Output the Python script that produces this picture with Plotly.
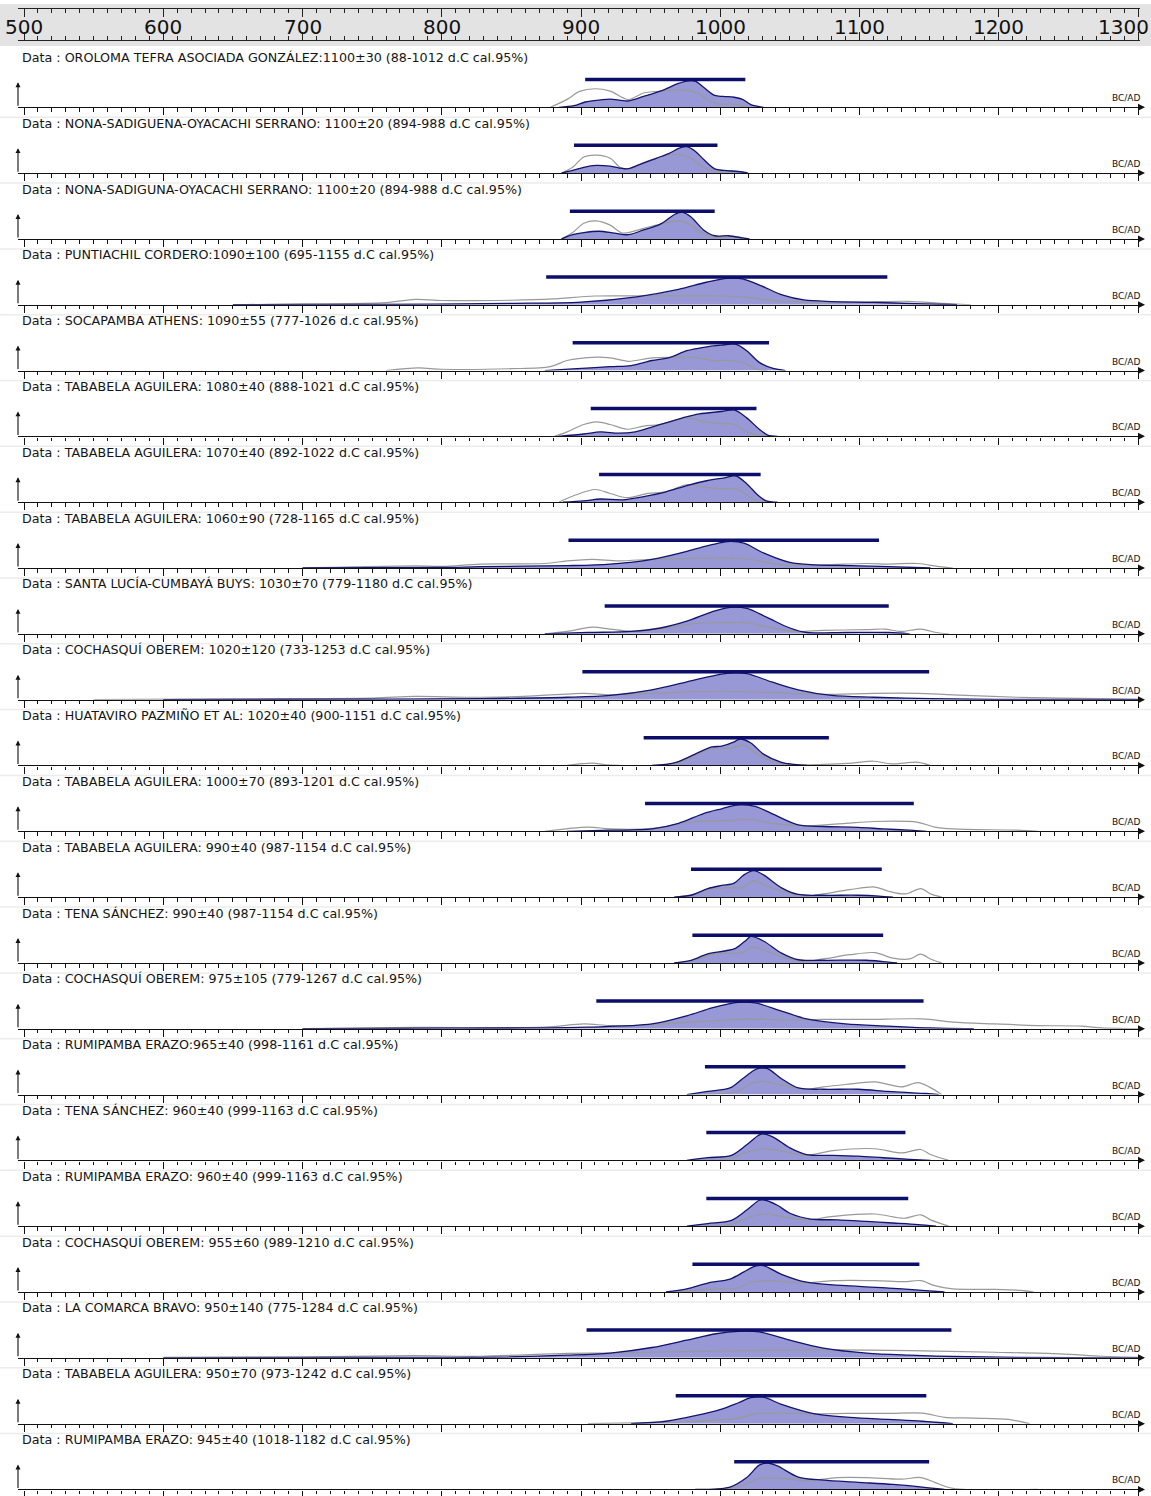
import plotly.graph_objects as go

# ---------------- data ----------------
labels = [
    "Data : OROLOMA TEFRA ASOCIADA GONZÁLEZ:1100±30 (88-1012 d.C cal.95%)",
    "Data : NONA-SADIGUENA-OYACACHI SERRANO: 1100±20 (894-988 d.C cal.95%)",
    "Data : NONA-SADIGUNA-OYACACHI SERRANO: 1100±20 (894-988 d.C cal.95%)",
    "Data : PUNTIACHIL CORDERO:1090±100 (695-1155 d.C cal.95%)",
    "Data : SOCAPAMBA ATHENS: 1090±55 (777-1026 d.c cal.95%)",
    "Data : TABABELA AGUILERA: 1080±40 (888-1021 d.C cal.95%)",
    "Data : TABABELA AGUILERA: 1070±40 (892-1022 d.C cal.95%)",
    "Data : TABABELA AGUILERA: 1060±90 (728-1165 d.C cal.95%)",
    "Data : SANTA LUCÍA-CUMBAYÁ BUYS: 1030±70 (779-1180 d.C cal.95%)",
    "Data : COCHASQUÍ OBEREM: 1020±120 (733-1253 d.C cal.95%)",
    "Data : HUATAVIRO PAZMIÑO ET AL: 1020±40 (900-1151 d.C cal.95%)",
    "Data : TABABELA AGUILERA: 1000±70 (893-1201 d.C cal.95%)",
    "Data : TABABELA AGUILERA: 990±40 (987-1154 d.C cal.95%)",
    "Data : TENA SÁNCHEZ: 990±40 (987-1154 d.C cal.95%)",
    "Data : COCHASQUÍ OBEREM: 975±105 (779-1267 d.C cal.95%)",
    "Data : RUMIPAMBA ERAZO:965±40 (998-1161 d.C cal.95%)",
    "Data : TENA SÁNCHEZ: 960±40 (999-1163 d.C cal.95%)",
    "Data : RUMIPAMBA ERAZO: 960±40 (999-1163 d.C cal.95%)",
    "Data : COCHASQUÍ OBEREM: 955±60 (989-1210 d.C cal.95%)",
    "Data : LA COMARCA BRAVO: 950±140 (775-1284 d.C cal.95%)",
    "Data : TABABELA AGUILERA: 950±70 (973-1242 d.C cal.95%)",
    "Data : RUMIPAMBA ERAZO: 945±40 (1018-1182 d.C cal.95%)",
]

range_start = [903, 895, 892, 875, 894, 907, 913, 891, 917, 901, 945,
               946, 979, 980, 911, 989, 990, 990, 980, 904, 968, 1010]
range_end = [1018, 998, 996, 1120, 1035, 1026, 1029, 1114, 1121, 1150, 1078,
             1139, 1116, 1117, 1146, 1133, 1133, 1135, 1143, 1166, 1148, 1150]

top_tick_labels = [500, 600, 700, 800, 900, 1000, 1100, 1200, 1300]

blue_years = [
    [884, 895, 903, 914, 921, 934, 945, 957, 970, 977, 982, 988, 996, 1002, 1010, 1016, 1022, 1031],
    [886, 894, 902, 911, 921, 933, 942, 954, 963, 972, 976, 982, 988, 996, 1003, 1013, 1020],
    [886, 894, 902, 913, 924, 934, 945, 957, 968, 973, 979, 988, 996, 1006, 1016, 1021],
    [650, 750, 850, 900, 940, 970, 990, 1005, 1016, 1030, 1045, 1060, 1080, 1110, 1140, 1170],
    [874, 894, 921, 936, 951, 964, 976, 988, 1001, 1011, 1019, 1028, 1038, 1047],
    [884, 902, 914, 927, 939, 957, 973, 985, 1001, 1010, 1019, 1028, 1034, 1041],
    [887, 902, 914, 930, 945, 961, 976, 991, 1004, 1011, 1019, 1027, 1033, 1041],
    [700, 800, 828, 890, 921, 951, 976, 994, 1005, 1017, 1031, 1050, 1068, 1093, 1121, 1151],
    [874, 905, 936, 957, 976, 994, 1007, 1019, 1034, 1050, 1062, 1090, 1121, 1136],
    [600, 750, 828, 890, 921, 951, 976, 994, 1007, 1019, 1037, 1056, 1080, 1110, 1151, 1197, 1300],
    [951, 967, 982, 994, 1001, 1010, 1014, 1022, 1031, 1044, 1053, 1062],
    [890, 921, 951, 970, 988, 1001, 1013, 1025, 1037, 1056, 1074, 1099, 1117, 1136, 1148],
    [967, 979, 991, 1001, 1010, 1017, 1024, 1031, 1044, 1056, 1074, 1099, 1114, 1124],
    [967, 979, 991, 1004, 1011, 1019, 1022, 1031, 1044, 1056, 1074, 1105, 1117, 1127],
    [700, 800, 859, 905, 951, 976, 994, 1007, 1013, 1025, 1044, 1062, 1090, 1121, 1151, 1182],
    [976, 991, 1007, 1016, 1024, 1028, 1034, 1044, 1056, 1074, 1099, 1120, 1136, 1148, 1157],
    [976, 991, 1008, 1019, 1027, 1030, 1038, 1050, 1062, 1081, 1099, 1117, 1136, 1151],
    [976, 991, 1008, 1019, 1028, 1031, 1041, 1050, 1065, 1084, 1105, 1124, 1142, 1155],
    [961, 976, 991, 1007, 1017, 1025, 1031, 1044, 1062, 1090, 1121, 1145, 1161],
    [600, 750, 828, 890, 921, 951, 976, 997, 1013, 1028, 1050, 1074, 1105, 1136, 1167, 1213, 1300],
    [936, 961, 982, 1001, 1013, 1022, 1031, 1044, 1068, 1093, 1121, 1145, 1167],
    [982, 1007, 1019, 1028, 1034, 1041, 1056, 1074, 1099, 1124, 1145, 1161],
]
blue_dens = [
    [0, 0.06, 0.2, 0.28, 0.31, 0.24, 0.41, 0.61, 0.9, 1.0, 0.99, 0.76, 0.45, 0.41, 0.38, 0.3, 0.1, 0],
    [0, 0.1, 0.22, 0.29, 0.26, 0.16, 0.32, 0.56, 0.74, 0.97, 1.0, 0.83, 0.52, 0.16, 0.1, 0.06, 0],
    [0, 0.16, 0.24, 0.29, 0.22, 0.16, 0.34, 0.56, 0.95, 1.0, 0.83, 0.34, 0.12, 0.12, 0.04, 0],
    [0, 0.01, 0.05, 0.1, 0.3, 0.58, 0.85, 1.0, 0.98, 0.7, 0.36, 0.18, 0.12, 0.09, 0.04, 0],
    [0, 0.06, 0.15, 0.19, 0.38, 0.5, 0.75, 0.88, 0.96, 1.0, 0.75, 0.31, 0.08, 0],
    [0, 0.09, 0.17, 0.12, 0.17, 0.45, 0.7, 0.85, 0.94, 1.0, 0.7, 0.27, 0.05, 0],
    [0, 0.05, 0.12, 0.09, 0.21, 0.39, 0.63, 0.82, 0.93, 1.0, 0.7, 0.27, 0.05, 0],
    [0, 0.02, 0.05, 0.09, 0.15, 0.33, 0.63, 0.88, 1.0, 0.94, 0.57, 0.21, 0.12, 0.09, 0.05, 0],
    [0, 0.05, 0.09, 0.22, 0.48, 0.83, 1.0, 0.96, 0.61, 0.22, 0.05, 0.05, 0.05, 0],
    [0, 0.02, 0.04, 0.09, 0.16, 0.37, 0.67, 0.89, 1.0, 0.98, 0.67, 0.37, 0.16, 0.09, 0.04, 0.01, 0],
    [0, 0.1, 0.43, 0.7, 0.73, 0.89, 1.0, 0.85, 0.43, 0.12, 0.04, 0],
    [0, 0.04, 0.09, 0.3, 0.67, 0.85, 1.0, 0.94, 0.67, 0.24, 0.18, 0.15, 0.09, 0.04, 0],
    [0, 0.07, 0.32, 0.44, 0.53, 0.84, 1.0, 0.84, 0.35, 0.1, 0.07, 0.07, 0.04, 0],
    [0, 0.1, 0.34, 0.46, 0.55, 0.88, 1.0, 0.83, 0.37, 0.12, 0.1, 0.1, 0.05, 0],
    [0, 0.02, 0.03, 0.06, 0.18, 0.49, 0.79, 0.95, 1.0, 0.98, 0.67, 0.37, 0.18, 0.1, 0.03, 0],
    [0, 0.12, 0.25, 0.6, 0.91, 1.0, 0.98, 0.6, 0.25, 0.2, 0.2, 0.12, 0.07, 0.04, 0],
    [0, 0.1, 0.19, 0.59, 0.93, 1.0, 0.88, 0.47, 0.22, 0.19, 0.16, 0.1, 0.04, 0],
    [0, 0.1, 0.22, 0.61, 0.98, 1.0, 0.79, 0.49, 0.27, 0.24, 0.18, 0.12, 0.06, 0],
    [0, 0.12, 0.34, 0.49, 0.76, 0.98, 1.0, 0.67, 0.37, 0.24, 0.15, 0.06, 0],
    [0, 0.02, 0.02, 0.1, 0.18, 0.39, 0.67, 0.91, 1.0, 0.98, 0.67, 0.37, 0.18, 0.1, 0.05, 0.02, 0],
    [0, 0.09, 0.3, 0.55, 0.79, 0.98, 1.0, 0.73, 0.37, 0.24, 0.16, 0.09, 0],
    [0, 0.09, 0.45, 0.92, 1.0, 0.89, 0.47, 0.35, 0.27, 0.19, 0.09, 0],
]

grey_years = [
    [878, 890, 899, 910, 921, 934, 945, 957, 970, 982, 991, 999, 1010, 1019],
    [886, 894, 902, 911, 921, 928, 934, 945, 957, 970, 979, 988, 996, 1010, 1019],
    [886, 894, 902, 911, 921, 930, 945, 957, 970, 979, 988, 996, 1010, 1019],
    [650, 700, 760, 781, 800, 850, 880, 910, 950, 1000, 1020, 1040, 1060, 1100, 1135, 1160, 1180],
    [760, 783, 800, 850, 878, 890, 908, 921, 934, 951, 967, 982, 994, 1007, 1019, 1025, 1034],
    [881, 890, 902, 911, 921, 933, 945, 957, 976, 988, 1001, 1010, 1019, 1028, 1034],
    [884, 896, 910, 921, 933, 948, 961, 976, 988, 1001, 1011, 1021, 1028, 1034],
    [700, 781, 800, 828, 874, 890, 908, 927, 951, 982, 1013, 1028, 1044, 1074, 1105, 1121, 1142, 1157, 1167],
    [874, 890, 908, 921, 936, 957, 982, 1001, 1019, 1031, 1053, 1074, 1105, 1118, 1130, 1144, 1155, 1164],
    [550, 650, 750, 781, 820, 859, 902, 921, 951, 982, 1019, 1050, 1074, 1110, 1142, 1167, 1213, 1244, 1274, 1300],
    [890, 908, 921, 967, 982, 994, 1007, 1017, 1025, 1037, 1050, 1074, 1095, 1110, 1123, 1142, 1151],
    [874, 905, 921, 951, 982, 1001, 1022, 1037, 1062, 1090, 1110, 1142, 1154, 1167, 1213, 1228],
    [967, 982, 994, 1007, 1016, 1024, 1031, 1044, 1062, 1074, 1093, 1111, 1121, 1133, 1144, 1151, 1159],
    [967, 982, 994, 1010, 1016, 1023, 1031, 1044, 1059, 1074, 1093, 1111, 1124, 1136, 1144, 1151, 1159],
    [700, 780, 874, 902, 921, 951, 976, 997, 1019, 1044, 1074, 1105, 1145, 1167, 1197, 1228, 1259, 1274, 1300],
    [976, 1001, 1013, 1022, 1031, 1044, 1062, 1074, 1090, 1111, 1130, 1142, 1150, 1159],
    [982, 1007, 1019, 1031, 1044, 1062, 1081, 1111, 1130, 1144, 1151, 1164],
    [982, 1007, 1019, 1031, 1044, 1062, 1081, 1111, 1132, 1144, 1151, 1164],
    [967, 997, 1013, 1022, 1037, 1059, 1081, 1111, 1132, 1144, 1154, 1167, 1197, 1216, 1225],
    [600, 700, 780, 828, 890, 921, 982, 1028, 1074, 1136, 1197, 1244, 1274, 1300],
    [905, 951, 982, 1013, 1025, 1044, 1068, 1090, 1121, 1145, 1161, 1182, 1207, 1222],
    [997, 1016, 1028, 1044, 1062, 1084, 1105, 1130, 1144, 1154, 1167, 1228],
]
grey_dens = [
    [0, 0.3, 0.6, 0.7, 0.61, 0.29, 0.54, 0.61, 0.66, 0.57, 0.29, 0.12, 0.12, 0],
    [0, 0.22, 0.61, 0.68, 0.56, 0.22, 0.16, 0.4, 0.61, 0.71, 0.56, 0.22, 0.07, 0.07, 0],
    [0, 0.24, 0.59, 0.68, 0.52, 0.22, 0.4, 0.56, 0.68, 0.52, 0.2, 0.07, 0.07, 0],
    [0, 0.03, 0.08, 0.2, 0.16, 0.17, 0.22, 0.33, 0.33, 0.33, 0.28, 0.15, 0.1, 0.1, 0.13, 0.05, 0],
    [0, 0.1, 0.05, 0.07, 0.15, 0.38, 0.5, 0.48, 0.35, 0.48, 0.5, 0.5, 0.38, 0.38, 0.25, 0.06, 0],
    [0, 0.17, 0.45, 0.55, 0.45, 0.27, 0.39, 0.45, 0.7, 0.57, 0.49, 0.45, 0.17, 0.05, 0],
    [0, 0.27, 0.48, 0.33, 0.17, 0.33, 0.39, 0.66, 0.57, 0.51, 0.51, 0.21, 0.02, 0],
    [0, 0.08, 0.06, 0.15, 0.17, 0.27, 0.33, 0.27, 0.33, 0.37, 0.37, 0.27, 0.12, 0.12, 0.17, 0.15, 0.17, 0.05, 0],
    [0, 0.09, 0.25, 0.18, 0.09, 0.18, 0.39, 0.42, 0.42, 0.29, 0.09, 0.13, 0.16, 0.18, 0.09, 0.18, 0.05, 0],
    [0, 0.03, 0.06, 0.12, 0.09, 0.12, 0.24, 0.18, 0.24, 0.3, 0.3, 0.24, 0.2, 0.24, 0.24, 0.18, 0.09, 0.06, 0.04, 0.02],
    [0, 0.09, 0.01, 0.06, 0.37, 0.65, 0.65, 0.77, 0.49, 0.16, 0.04, 0.04, 0.09, 0.16, 0.06, 0.12, 0],
    [0, 0.16, 0.09, 0.11, 0.37, 0.39, 0.45, 0.3, 0.21, 0.3, 0.37, 0.34, 0.16, 0.09, 0.04, 0],
    [0, 0.1, 0.31, 0.35, 0.37, 0.62, 0.49, 0.22, 0.04, 0.12, 0.28, 0.38, 0.22, 0.12, 0.32, 0.12, 0],
    [0, 0.12, 0.31, 0.37, 0.39, 0.61, 0.49, 0.24, 0.06, 0.15, 0.31, 0.39, 0.18, 0.15, 0.33, 0.15, 0],
    [0, 0.05, 0.06, 0.18, 0.12, 0.15, 0.25, 0.31, 0.37, 0.33, 0.35, 0.35, 0.37, 0.25, 0.18, 0.12, 0.1, 0.03, 0],
    [0, 0.04, 0.12, 0.41, 0.5, 0.35, 0.2, 0.29, 0.38, 0.48, 0.29, 0.45, 0.29, 0],
    [0, 0.06, 0.31, 0.44, 0.35, 0.19, 0.37, 0.44, 0.28, 0.41, 0.22, 0],
    [0, 0.06, 0.3, 0.46, 0.37, 0.24, 0.37, 0.46, 0.3, 0.43, 0.24, 0],
    [0, 0.12, 0.15, 0.37, 0.43, 0.34, 0.43, 0.43, 0.39, 0.43, 0.24, 0.12, 0.1, 0.06, 0],
    [0.02, 0.04, 0.08, 0.06, 0.17, 0.18, 0.24, 0.28, 0.3, 0.27, 0.21, 0.15, 0.06, 0.02],
    [0, 0.04, 0.09, 0.21, 0.37, 0.4, 0.37, 0.39, 0.39, 0.4, 0.24, 0.21, 0.16, 0],
    [0, 0.15, 0.42, 0.42, 0.33, 0.45, 0.45, 0.39, 0.45, 0.27, 0.04, 0],
]

# ---------------- layout geometry (pixels) ----------------
W, H = 1151, 1496
AX_LEFT_PX, AX_RIGHT_PX = 18, 1140          # panel axis line extent
TICK500_PX, TICK1300_PX = 24, 1138          # where 500 and 1300 fall
PPY = (TICK1300_PX - TICK500_PX) / 800.0
XR0 = 500 - (TICK500_PX - AX_LEFT_PX) / PPY
XR1 = 1300 + (AX_RIGHT_PX - TICK1300_PX) / PPY
XDOM = [AX_LEFT_PX / W, AX_RIGHT_PX / W]
FIRST_AXIS_PX, PANEL_STEP = 107.5, 65.95
UNIT_PX = 26.5       # height of density 1.0
YTOP = 1.3
BAR_LEVEL = 1.05

FILL = "rgba(152,152,214,1)"
NAVY = "#14146e"
BAR = "#0d0d6a"
GREY = "#999999"
FONT = "DejaVu Sans"


def pyp(px):
    return 1 - px / H


fig = go.Figure()
layout = dict(
    width=W, height=H, margin=dict(l=0, r=0, t=0, b=0),
    paper_bgcolor="white", plot_bgcolor="rgba(0,0,0,0)", showlegend=False,
)
shapes, annotations = [], []

# top scale
layout["xaxis"] = dict(
    domain=XDOM, range=[XR0, XR1], anchor="y", showline=True, linecolor="#222",
    linewidth=1, mirror="ticks", ticks="inside", ticklen=8, tickwidth=1, tickcolor="#222",
    tick0=500, dtick=100, showticklabels=False, showgrid=False, zeroline=False,
    minor=dict(dtick=10, tick0=500, ticks="inside", ticklen=4, tickwidth=1, tickcolor="#222", showgrid=False),
)
layout["yaxis"] = dict(domain=[pyp(40), pyp(9)], range=[0, 1], visible=False)
shapes.append(dict(type="rect", xref="paper", yref="paper", x0=0, x1=1, y0=pyp(46), y1=pyp(4),
                   fillcolor="#e3e3e3", line=dict(width=0), layer="below"))
for v in top_tick_labels:
    if v == top_tick_labels[-1]:
        # last label sits at the right edge: anchor it so it stays fully visible
        annotations.append(dict(x=1.0, xref="paper", y=pyp(27), yref="paper", text=str(v), showarrow=False,
                                xanchor="right", yanchor="middle",
                                font=dict(family=FONT, size=20, color="#111")))
    else:
        annotations.append(dict(x=v, xref="x", y=pyp(27), yref="paper", text=str(v), showarrow=False,
                                xanchor="center", yanchor="middle",
                                font=dict(family=FONT, size=20, color="#111")))

for i in range(len(labels)):
    k = i + 2
    a = FIRST_AXIS_PX + PANEL_STEP * i
    xa, ya = "x%d" % k, "y%d" % k
    layout["xaxis%d" % k] = dict(
        domain=XDOM, range=[XR0, XR1], anchor=ya, showline=True, linecolor="#111", linewidth=1.3,
        ticks="outside", ticklen=7, tickwidth=1, tickcolor="#111", tick0=500, dtick=100,
        showticklabels=False, showgrid=False, zeroline=False,
        minor=dict(dtick=10, tick0=500, ticks="outside", ticklen=3.5, tickwidth=1, tickcolor="#111", showgrid=False),
    )
    layout["yaxis%d" % k] = dict(domain=[pyp(a), pyp(a - YTOP * UNIT_PX)], range=[0, YTOP],
                                 visible=False, fixedrange=True)

    fig.add_trace(go.Scatter(x=blue_years[i], y=blue_dens[i], xaxis=xa, yaxis=ya, mode="lines",
                             line=dict(width=0, shape="spline", smoothing=0.9, color=FILL),
                             fill="tozeroy", fillcolor=FILL, hoverinfo="skip"))
    fig.add_trace(go.Scatter(x=grey_years[i], y=grey_dens[i], xaxis=xa, yaxis=ya, mode="lines",
                             line=dict(width=1.2, shape="spline", smoothing=0.9, color=GREY), hoverinfo="skip"))
    fig.add_trace(go.Scatter(x=blue_years[i], y=blue_dens[i], xaxis=xa, yaxis=ya, mode="lines",
                             line=dict(width=1.3, shape="spline", smoothing=0.9, color=NAVY), hoverinfo="skip"))
    fig.add_trace(go.Scatter(x=[range_start[i], range_end[i]], y=[BAR_LEVEL, BAR_LEVEL], xaxis=xa, yaxis=ya,
                             mode="lines", line=dict(width=3.5, color=BAR), hoverinfo="skip"))

    # separator under panel
    shapes.append(dict(type="line", xref="paper", yref="paper", x0=0, x1=1, y0=pyp(a + 10), y1=pyp(a + 10),
                       line=dict(color="#ececec", width=1.5), layer="below"))
    # title
    annotations.append(dict(x=20 / W, xref="paper", y=pyp(a - 50), yref="paper", text=labels[i],
                            showarrow=False, xanchor="left", yanchor="middle",
                            font=dict(family=FONT, size=12.7, color="#151515")))
    # vertical arrow
    annotations.append(dict(x=AX_LEFT_PX / W, xref="paper", y=pyp(a - 25), yref="paper", text="",
                            showarrow=True, ax=0, ay=25, arrowhead=2, arrowsize=0.9, arrowwidth=1.1,
                            arrowcolor="#111"))
    # right arrowhead
    annotations.append(dict(x=(AX_RIGHT_PX + 5) / W, xref="paper", y=pyp(a), yref="paper", text="",
                            showarrow=True, ax=-7, ay=0, arrowhead=2, arrowsize=1.0, arrowwidth=1.4,
                            arrowcolor="#111"))
    # BC/AD
    annotations.append(dict(x=1126 / W, xref="paper", y=pyp(a - 9), yref="paper", text="BC/AD",
                            showarrow=False, xanchor="center", yanchor="middle",
                            font=dict(family=FONT, size=9, color="#111")))

layout["shapes"] = shapes
layout["annotations"] = annotations
fig.update_layout(**layout)
fig.write_html(
    "out.html",
    config={"displayModeBar": False},
    post_script="document.body.style.margin='0';document.body.style.overflow='hidden';",
)
